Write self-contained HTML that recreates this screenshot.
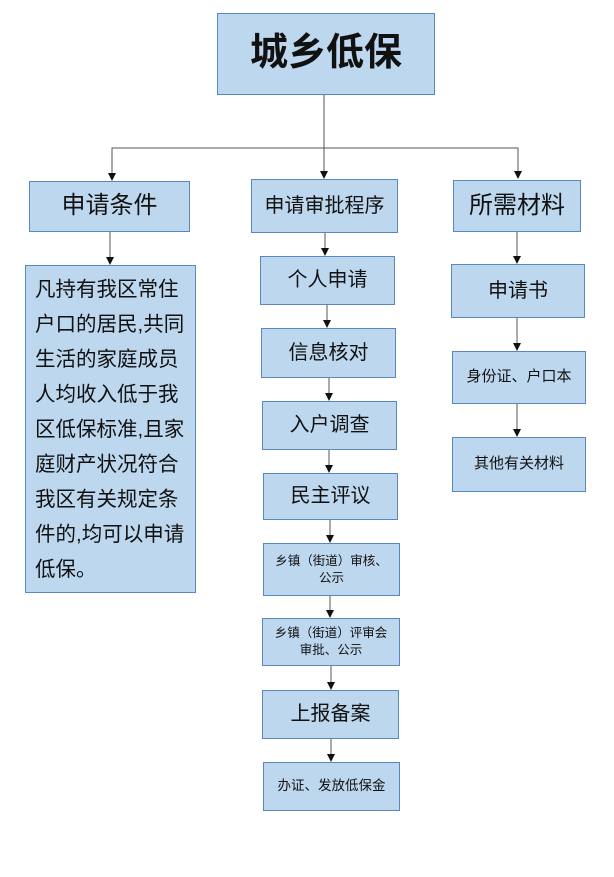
<!DOCTYPE html>
<html><head><meta charset="utf-8"><style>
body{margin:0;background:#fff;width:614px;height:877px;position:relative;overflow:hidden;font-family:"Liberation Sans","Noto Sans CJK SC",sans-serif;color:#111}
.b{position:absolute;box-sizing:border-box;background:#bdd7ee;border:1.5px solid #5a87c0;display:flex;align-items:center;justify-content:center;text-align:center;line-height:1.35}
svg{position:absolute;left:0;top:0}
</style></head><body>
<svg width="614" height="877">
<defs><marker id="a" markerWidth="8" markerHeight="8" refX="4" refY="7" markerUnits="userSpaceOnUse"><path d="M0,0 L8,0 L4,8 z" fill="#111"/></marker></defs>
<g stroke="#555" stroke-width="1" fill="none">
<line x1="324" y1="95" x2="324" y2="178" marker-end="url(#a)"/>
<polyline points="112,178 112,148 518,148 518,178" marker-end="url(#a)"/>
<line x1="112" y1="148" x2="112" y2="180" marker-end="url(#a)"/>
<line x1="110" y1="232" x2="110" y2="264" marker-end="url(#a)"/>
<line x1="325" y1="233" x2="325" y2="255" marker-end="url(#a)"/>
<line x1="327" y1="305" x2="327" y2="327" marker-end="url(#a)"/>
<line x1="329" y1="378" x2="329" y2="400" marker-end="url(#a)"/>
<line x1="329" y1="450" x2="329" y2="472" marker-end="url(#a)"/>
<line x1="330" y1="520" x2="330" y2="542" marker-end="url(#a)"/>
<line x1="330" y1="596" x2="330" y2="617" marker-end="url(#a)"/>
<line x1="331" y1="666" x2="331" y2="689" marker-end="url(#a)"/>
<line x1="331" y1="739" x2="331" y2="761" marker-end="url(#a)"/>
<line x1="517" y1="232" x2="517" y2="263" marker-end="url(#a)"/>
<line x1="517" y1="318" x2="517" y2="350" marker-end="url(#a)"/>
<line x1="517" y1="404" x2="517" y2="436" marker-end="url(#a)"/>
</g></svg>
<div class="b" style="left:217px;top:13px;width:218px;height:82px;font-size:38px;font-weight:bold">城乡低保</div>
<div class="b" style="left:29px;top:181px;width:161px;height:51px;font-size:24px">申请条件</div>
<div class="b" style="left:251px;top:179px;width:147px;height:54px;font-size:20px">申请审批程序</div>
<div class="b" style="left:453px;top:180px;width:128px;height:52px;font-size:24px">所需材料</div>
<div class="b" style="left:25px;top:265px;width:171px;height:328px;font-size:20.5px;line-height:35px;display:block;text-align:left;padding:6px 0 0 9px;letter-spacing:0px;white-space:nowrap">凡持有我区常住<br>户口的居民,共同<br>生活的家庭成员<br>人均收入低于我<br>区低保标准,且家<br>庭财产状况符合<br>我区有关规定条<br>件的,均可以申请<br>低保。</div>
<div class="b" style="left:260px;top:256px;width:135px;height:49px;font-size:20px">个人申请</div>
<div class="b" style="left:261px;top:328px;width:135px;height:50px;font-size:20px">信息核对</div>
<div class="b" style="left:262px;top:401px;width:135px;height:49px;font-size:20px">入户调查</div>
<div class="b" style="left:263px;top:473px;width:135px;height:47px;font-size:20px">民主评议</div>
<div class="b" style="left:263px;top:543px;width:137px;height:53px;font-size:12.5px">乡镇（街道）审核、<br>公示</div>
<div class="b" style="left:262px;top:618px;width:138px;height:48px;font-size:12.5px">乡镇（街道）评审会<br>审批、公示</div>
<div class="b" style="left:262px;top:690px;width:137px;height:49px;font-size:20px">上报备案</div>
<div class="b" style="left:263px;top:762px;width:137px;height:49px;font-size:13.5px">办证、发放低保金</div>
<div class="b" style="left:451px;top:264px;width:134px;height:54px;font-size:20px">申请书</div>
<div class="b" style="left:452px;top:351px;width:134px;height:53px;font-size:15px">身份证、户口本</div>
<div class="b" style="left:452px;top:437px;width:134px;height:55px;font-size:15px">其他有关材料</div>
</body></html>
